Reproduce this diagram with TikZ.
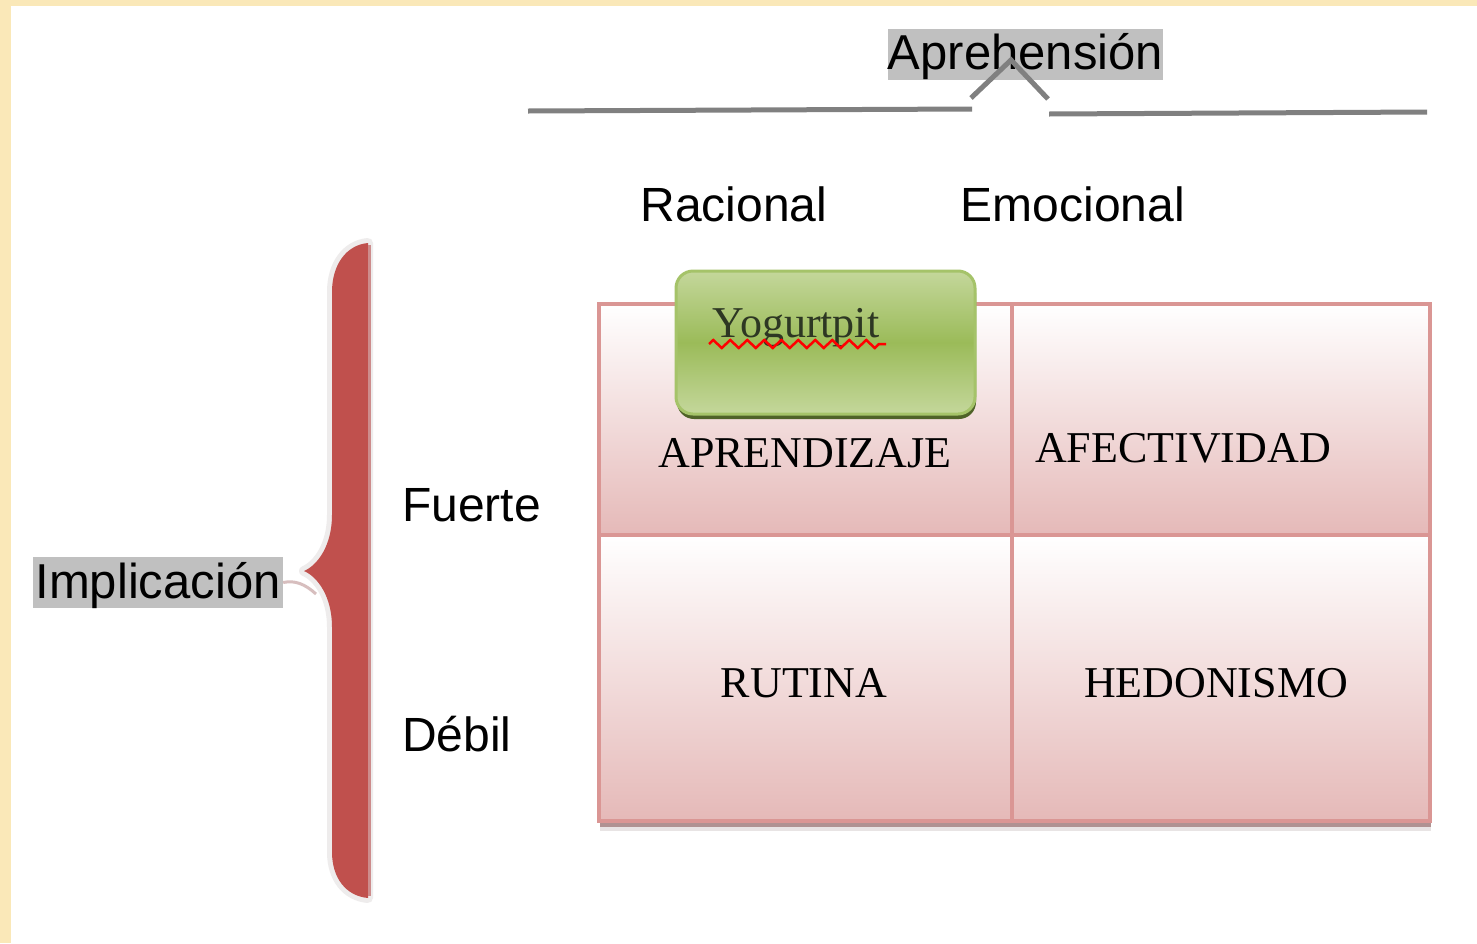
\documentclass[tikz,border=0pt]{standalone}
\usepackage{fontspec}
\setmainfont{Liberation Serif}
\newfontfamily\lsans{Liberation Sans}
\usetikzlibrary{decorations.pathmorphing}
\definecolor{frameyellow}{RGB}{250,232,184}
\definecolor{cellborder}{RGB}{218,150,148}
\definecolor{cellpink}{RGB}{229,185,184}
\definecolor{shadowA}{RGB}{175,146,146}
\definecolor{shadowB}{RGB}{232,228,228}
\definecolor{greenlight}{RGB}{196,215,155}
\definecolor{greenmid}{RGB}{155,187,89}
\definecolor{greenedge}{RGB}{165,195,105}
\definecolor{greendark}{RGB}{79,98,40}
\definecolor{bracered}{RGB}{192,80,77}
\definecolor{braceedge}{RGB}{205,140,140}
\definecolor{braceglow}{RGB}{238,236,236}
\definecolor{bracetail}{RGB}{215,190,190}
\definecolor{labelgray}{RGB}{192,192,192}
\definecolor{linegray}{RGB}{128,128,128}
\definecolor{yogtext}{RGB}{45,55,35}
\begin{document}
\begin{tikzpicture}[x=1pt,y=-1pt,
  sanslab/.style={font=\lsans\fontsize{48pt}{52pt}\selectfont, inner sep=0pt, anchor=base},
  graylab/.style={font=\lsans\fontsize{49pt}{52pt}\selectfont, fill=labelgray, inner sep=0pt, text height=41pt, text depth=10pt},
  celltext/.style={font=\fontsize{44pt}{48pt}\selectfont, inner sep=0pt, anchor=base},
  cellbox/.style={draw=cellborder, line width=4pt, top color=white, bottom color=cellpink, inner sep=0pt, anchor=north west},
  bracestroke/.style={linegray, line width=5pt},
]
\useasboundingbox (0,0) rectangle (1477,943);
\fill[white] (0,0) rectangle (1477,943);
\fill[frameyellow] (0,0) rectangle (11,943);
\fill[frameyellow] (0,0) rectangle (1477,6);

% grid shadow
\fill[shadowB] (600,309) rectangle (1431,831);
\fill[shadowA] (600,306) rectangle (1431,827);

% cells
\node[cellbox, minimum width=413pt, minimum height=231pt] (c11) at (597,302) {};
\node[cellbox, minimum width=418pt, minimum height=231pt] (c12) at (1010,302) {};
\node[cellbox, minimum width=413pt, minimum height=286pt] (c21) at (597,533) {};
\node[cellbox, minimum width=418pt, minimum height=286pt] (c22) at (1010,533) {};

\node[celltext] (aprend) at (805,467) {APRENDIZAJE};
\node[celltext] (afect) at (1183,462) {AFECTIVIDAD};
\node[celltext] (rutina) at (804,697) {RUTINA};
\node[celltext] (hedon) at (1216,697) {HEDONISMO};

% green box
\fill[greendark, rounded corners=17pt] (677,276) rectangle (976,419);
\node[rounded corners=17pt, draw=greenedge, line width=3pt, top color=greenlight, bottom color=greenlight, middle color=greenmid, minimum width=299pt, minimum height=143pt, inner sep=0pt] (yogbox) at (825.5,342.5) {};
\node[celltext, text=yogtext] (yog) at (796,337) {Yogurtpit};
\draw[red, line width=2.5pt, decorate, decoration={zigzag, amplitude=4pt, segment length=17pt}] (709,344) -- (886,344);

% labels
\node[sanslab] (racional) at (734,221) {Racional};
\node[sanslab] (emocional) at (1073,221) {Emocional};
\node[sanslab, anchor=base west] (fuerte) at (402,521) {Fuerte};
\node[sanslab, anchor=base west] (debil) at (402,751) {Débil};
\node[graylab, minimum width=250pt, minimum height=49pt] (impl) at (158,582.5) {Implicación};
\node[graylab, minimum width=273pt, minimum height=50pt] (apre) at (1025.5,54) {Aprehensión};

% vertical brace
\draw[bracetail, line width=3pt] (impl.east) .. controls (295,580) and (305,584) .. (316,594);
\fill[bracered, preaction={draw=braceglow, line width=10pt, line join=round}]
  (368,243) .. controls (346,245) and (332,265) .. (332,292)
  -- (332,515) .. controls (332,545) and (318,565) .. (304,571)
  .. controls (318,577) and (332,597) .. (332,627)
  -- (332,852) .. controls (332,878) and (346,896) .. (368,898) -- cycle;
\draw[braceedge, line width=3pt] (369,245) -- (369,896);

% horizontal brace for Aprehension
\coordinate (hl1) at (528,111);
\coordinate (hl2) at (972,109);
\coordinate (hr1) at (1049,114);
\coordinate (hr2) at (1427,112);
\coordinate (ca) at (971,98);
\coordinate (cb) at (1011,60);
\coordinate (cc) at (1048,99);
\draw[bracestroke] (hl1) -- (hl2);
\draw[bracestroke] (hr1) -- (hr2);
\draw[bracestroke] (ca) -- (cb) -- (cc);
\end{tikzpicture}
\end{document}
